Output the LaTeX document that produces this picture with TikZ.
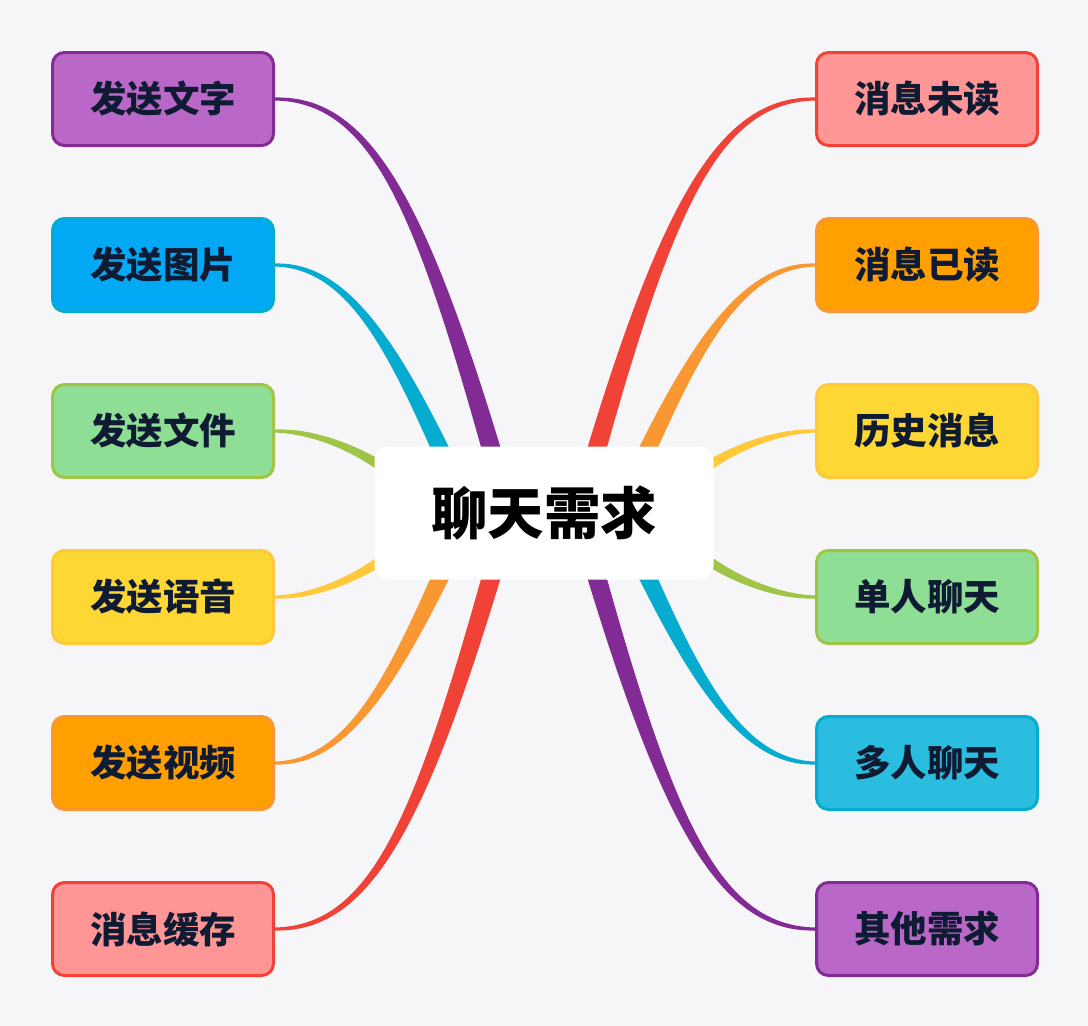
\documentclass[tikz,border=0pt]{standalone}
\usepackage{fontspec}
\newfontfamily\cjk{Noto Sans CJK SC}
\usetikzlibrary{calc}
\pgfdeclarelayer{back}
\pgfdeclarelayer{lines}
\pgfsetlayers{back,lines,main}
\definecolor{bgc}{HTML}{F6F6F9}
\definecolor{txt}{HTML}{0F1B33}
\definecolor{purF}{HTML}{BA68C8}\definecolor{purL}{HTML}{832B95}
\definecolor{bluF}{HTML}{03A9F4}\definecolor{bluL}{HTML}{06ABD0}
\definecolor{cyaF}{HTML}{2ABDE0}
\definecolor{grnF}{HTML}{8FDE96}\definecolor{grnL}{HTML}{A0C445}
\definecolor{yelF}{HTML}{FDD835}\definecolor{yelL}{HTML}{FFC93A}
\definecolor{orgF}{HTML}{FFA000}\definecolor{orgL}{HTML}{F99832}
\definecolor{redF}{HTML}{FF9696}\definecolor{redL}{HTML}{F04236}
% tapered branch: colour, start anchor, root point, ctrl offset at start,
% ctrl offset at root, half-width normal at start, half-width normal at root
\newcommand\branch[7]{%
  \fill[#1] ($(#2)+(#6)$) .. controls ($(#2)+(#4)+2.6*(#6)$) and ($(#3)+(#5)+0.72*(#7)$) .. ($(#3)+(#7)$)
    -- ($(#3)-(#7)$) .. controls ($(#3)+(#5)-0.72*(#7)$) and ($(#2)+(#4)-2.6*(#6)$) .. ($(#2)-(#6)$) -- cycle;}
\tikzset{
  leaf/.style={draw=#1L, fill=#1F, line width=3pt, rounded corners=12pt,
    minimum width=221pt, minimum height=93pt, inner sep=0pt,
    font=\cjk\bfseries\fontsize{36.5}{40}\selectfont, text=txt},
  rootbox/.style={fill=white, draw=none, rounded corners=14pt,
    minimum width=339pt, minimum height=133pt, inner sep=0pt,
    font=\cjk\bfseries\fontsize{56.5}{62}\selectfont, text=black}
}
\begin{document}
\begin{tikzpicture}[x=1pt,y=-1pt]
\begin{pgfonlayer}{back}
\fill[bgc] (0,0) rectangle (1088,1026);
\end{pgfonlayer}
\useasboundingbox (0,0) rectangle (1088,1026);
\node[rootbox] (c) at (544,513) {聊天需求};
\node[leaf=pur] (l1) at (163,99) {发送文字};
\node[leaf=blu] (l2) at (163,265) {发送图片};
\node[leaf=grn] (l3) at (163,431) {发送文件};
\node[leaf=yel] (l4) at (163,597) {发送语音};
\node[leaf=org] (l5) at (163,763) {发送视频};
\node[leaf=red] (l6) at (163,929) {消息缓存};
\node[leaf=red] (r1) at (927,99) {消息未读};
\node[leaf=org] (r2) at (927,265) {消息已读};
\node[leaf=yel] (r3) at (927,431) {历史消息};
\node[leaf=grn] (r4) at (927,597) {单人聊天};
\node[leaf=blu, fill=cyaF] (r5) at (927,763) {多人聊天};
\node[leaf=pur] (r6) at (927,929) {其他需求};
\coordinate (sl1) at ($(c.center)+(-34.5,0)$);
\coordinate (sl2) at ($(c.center)+(-74.5,0)$);
\coordinate (sl3) at ($(c.center)+(-114.5,0)$);
\coordinate (sr1) at ($(c.center)+(34.5,0)$);
\coordinate (sr2) at ($(c.center)+(74.5,0)$);
\coordinate (sr3) at ($(c.center)+(114.5,0)$);
\begin{pgfonlayer}{lines}
\branch{purL}{l1.east}{sl1}{100,0}{-84,-300}{0,-1.5}{9.63,-2.7}
\branch{bluL}{l2.east}{sl2}{80,0}{-67.5,-150}{0,-1.5}{9.12,-4.1}
\branch{grnL}{l3.east}{sl3}{60,0}{-24,-40}{0,-1.5}{7.3,-4.4}
\branch{yelL}{l4.east}{sl3}{60,0}{-24,40}{0,1.5}{7.3,4.4}
\branch{orgL}{l5.east}{sl2}{80,0}{-67.5,150}{0,1.5}{9.12,4.1}
\branch{redL}{l6.east}{sl1}{100,0}{-84,300}{0,1.5}{9.63,2.7}
\branch{redL}{r1.west}{sr1}{-100,0}{84,-300}{0,-1.5}{-9.63,-2.7}
\branch{orgL}{r2.west}{sr2}{-80,0}{67.5,-150}{0,-1.5}{-9.12,-4.1}
\branch{yelL}{r3.west}{sr3}{-60,0}{24,-40}{0,-1.5}{-7.3,-4.4}
\branch{grnL}{r4.west}{sr3}{-60,0}{24,40}{0,1.5}{-7.3,4.4}
\branch{bluL}{r5.west}{sr2}{-80,0}{67.5,150}{0,1.5}{-9.12,4.1}
\branch{purL}{r6.west}{sr1}{-100,0}{84,300}{0,1.5}{-9.63,2.7}
\end{pgfonlayer}
\end{tikzpicture}
\end{document}
